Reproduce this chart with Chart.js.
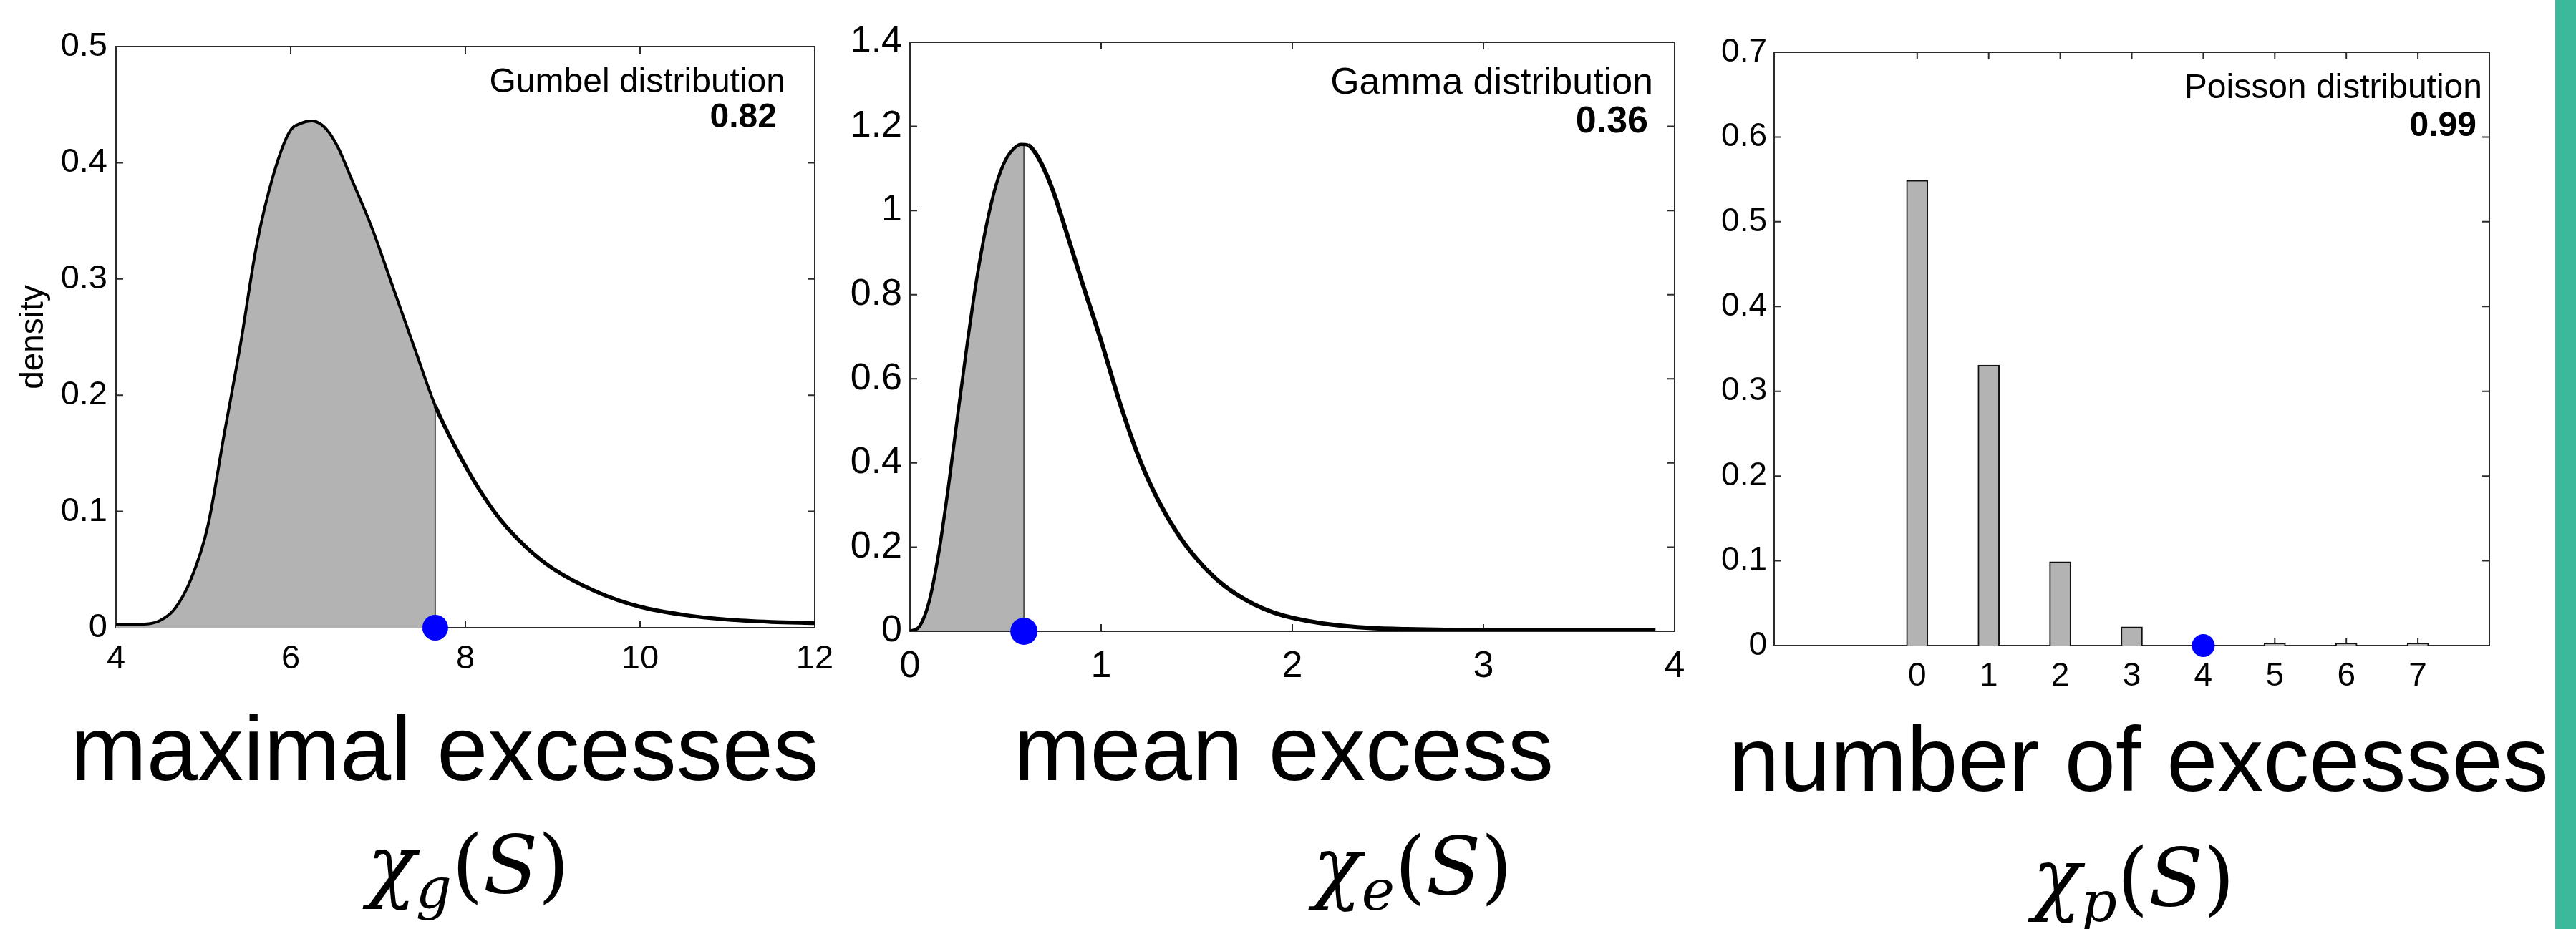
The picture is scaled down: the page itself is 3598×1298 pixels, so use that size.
<!DOCTYPE html>
<html lang="en">
<head>
<meta charset="UTF-8" />
<title>Excess distributions</title>
<script src="https://cdn.jsdelivr.net/npm/chart.js"></script>
<style>
  html, body { margin: 0; padding: 0; background: #fff; }
  body {
    width: 3598px; height: 1298px; position: relative; overflow: hidden;
    font-family: "Liberation Sans", Arial, sans-serif;
  }
  canvas { position: absolute; top: 0; }
  .caption {
    position: absolute; width: 1400px; text-align: center;
    font-size: 128px; line-height: 1; color: #000; white-space: nowrap;
  }
  .math {
    position: absolute; width: 600px; text-align: center;
    font-family: "DejaVu Serif", serif; font-size: 112px; line-height: 1;
    color: #000; white-space: nowrap;
  }
  .math sub { font-size: 0.7em; vertical-align: -0.28em; line-height: 0; font-style: italic; }
  .stripe { position: absolute; left: 3569px; top: 0; width: 29px; height: 1298px; background: #3cb99a; }
</style>
</head>
<body>
<canvas id="gumbel" width="1200" height="990" style="left:0px"></canvas>
<canvas id="gamma" width="1210" height="990" style="left:1170px"></canvas>
<canvas id="poisson" width="1150" height="990" style="left:2380px"></canvas>

<div class="caption" style="left:-79px; top:982px">maximal excesses</div>
<div class="caption" style="left:1093px; top:982px">mean excess</div>
<div class="caption" style="left:2287px; top:997px">number of excesses</div>

<div class="math" style="left:354px; top:1152px"><i>χ</i><sub>g</sub>(<i>S</i>)</div>
<div class="math" style="left:1673px; top:1154px"><i>χ</i><sub>e</sub>(<i>S</i>)</div>
<div class="math" style="left:2680px; top:1170px"><i>χ</i><sub>p</sub>(<i>S</i>)</div>

<div class="stripe"></div>

<script>
  // maximal excesses - Gumbel density
  const gumbelX = [4.0, 4.3, 4.5, 4.67, 4.86, 5.05, 5.24, 5.43, 5.61, 5.8, 5.99, 6.12, 6.24, 6.35,
    6.45, 6.55, 6.68, 6.93, 7.18, 7.43, 7.655, 7.9, 8.15, 8.4, 8.7, 9.0, 9.5, 10.0, 10.5, 11.0, 11.5, 12.0];
  const gumbelY = [0.003, 0.003, 0.006, 0.016, 0.042, 0.087, 0.167, 0.246, 0.329, 0.389, 0.427, 0.434, 0.436, 0.433,
    0.425, 0.412, 0.389, 0.344, 0.291, 0.238, 0.191, 0.153, 0.12, 0.093, 0.069, 0.051, 0.031, 0.018, 0.011, 0.007, 0.005, 0.004];
  const gumbelObs = 7.655;
  const gumbelObsY = 0.191;
  const gumbelXTicks = [4, 6, 8, 10, 12];
  const gumbelYTicks = [0, 0.1, 0.2, 0.3, 0.4, 0.5];

  // mean excess - Gamma density
  const gammaX = [0, 0.05, 0.1, 0.15, 0.2, 0.25, 0.3, 0.35, 0.4, 0.45, 0.5, 0.55, 0.58, 0.62, 0.66, 0.7, 0.75,
    0.8, 0.9, 1.0, 1.1, 1.2, 1.3, 1.4, 1.5, 1.6, 1.7, 1.8, 1.9, 2.0, 2.2, 2.4, 2.6, 3.0, 3.5, 3.9];
  const gammaY = [0, 0.012, 0.07, 0.185, 0.34, 0.515, 0.685, 0.84, 0.965, 1.06, 1.12, 1.15, 1.157, 1.155, 1.134, 1.1, 1.045,
    0.975, 0.83, 0.69, 0.54, 0.41, 0.31, 0.232, 0.172, 0.125, 0.09, 0.064, 0.045, 0.032, 0.016, 0.008, 0.005, 0.003, 0.003, 0.003];
  const gammaObs = 0.596;
  const gammaObsY = 1.156;
  const gammaXTicks = [0, 1, 2, 3, 4];
  const gammaYTicks = [0, 0.2, 0.4, 0.6, 0.8, 1, 1.2, 1.4];

  // number of excesses - Poisson probabilities
  const poissonK = [0, 1, 2, 3, 4, 5, 6, 7];
  const poissonP = [0.549, 0.331, 0.099, 0.022, 0.004, 0.003, 0.003, 0.003];
  const poissonObs = 4;
  const poissonXTicks = [0, 1, 2, 3, 4, 5, 6, 7];
  const poissonYTicks = [0, 0.1, 0.2, 0.3, 0.4, 0.5, 0.6, 0.7];

  const FONT = "Liberation Sans";
  const SHADE = "#b3b3b3";
  const DOT = "#0000ff";

  function pts(xs, ys) {
    return xs.map((x, i) => ({ x: x, y: ys[i] }));
  }

  function shadePts(xs, ys, obs, obsY) {
    const p = pts(xs, ys).filter(d => d.x < obs);
    p.push({ x: obs, y: obsY });
    return p;
  }

  // box around the axes, inward ticks on all four sides, and the corner note
  const frame = {
    id: "frame",
    beforeDatasetsDraw(chart) {
      const { ctx, chartArea: a, scales } = chart;
      ctx.save();
      ctx.strokeStyle = "#2b2b2b";
      ctx.lineWidth = 2;
      ctx.strokeRect(a.left, a.top, a.right - a.left, a.bottom - a.top);
      ctx.beginPath();
      scales.x.ticks.forEach(t => {
        const px = scales.x.getPixelForValue(t.value);
        ctx.moveTo(px, a.bottom); ctx.lineTo(px, a.bottom - 10);
        ctx.moveTo(px, a.top); ctx.lineTo(px, a.top + 10);
      });
      scales.y.ticks.forEach(t => {
        const py = scales.y.getPixelForValue(t.value);
        ctx.moveTo(a.left, py); ctx.lineTo(a.left + 10, py);
        ctx.moveTo(a.right, py); ctx.lineTo(a.right - 10, py);
      });
      ctx.stroke();
      ctx.restore();
    },
    afterDraw(chart, args, o) {
      if (!o.title) return;
      const { ctx, chartArea: a } = chart;
      ctx.save();
      ctx.fillStyle = "#000";
      ctx.textAlign = "right";
      ctx.textBaseline = "alphabetic";
      ctx.font = o.size + "px '" + FONT + "'";
      ctx.fillText(o.title, a.right - o.titleDx, a.top + o.titleDy);
      ctx.font = "bold " + o.size + "px '" + FONT + "'";
      ctx.fillText(o.value, a.right - o.valueDx, a.top + o.valueDy);
      ctx.restore();
    }
  };

  function axes(p) {
    const tickFont = { size: p.font, family: FONT };
    return {
      x: {
        type: "linear", position: "bottom", min: p.xMin, max: p.xMax, offset: false,
        afterBuildTicks: s => { s.ticks = p.xTicks.map(v => ({ value: v })); },
        afterFit: s => { s.height = p.xH; },
        grid: { display: false, drawTicks: false, offset: false },
        border: { display: false },
        ticks: { padding: p.xPad, color: "#000", font: tickFont, maxRotation: 0, autoSkip: false,
          callback: v => String(+v.toFixed(2)) }
      },
      y: {
        type: "linear", position: "left", min: p.yMin, max: p.yMax,
        afterBuildTicks: s => { s.ticks = p.yTicks.map(v => ({ value: v })); },
        afterFit: s => { s.width = p.yW; },
        grid: { display: false, drawTicks: false },
        border: { display: false },
        ticks: { padding: p.yPad, color: "#000", font: tickFont, callback: v => String(+v.toFixed(2)) },
        title: p.yTitle ? { display: true, text: p.yTitle, color: "#000",
          font: { size: 46, family: FONT }, padding: { top: 20, bottom: 0 } } : { display: false }
      }
    };
  }

  function baseOptions(p, note) {
    return {
      responsive: false,
      animation: false,
      events: [],
      layout: { padding: { top: p.top, right: p.right, left: 0, bottom: 0 } },
      plugins: { legend: { display: false }, tooltip: { enabled: false }, frame: note },
      scales: axes(p)
    };
  }

  function densityChart(id, xs, ys, obs, obsY, p, note, width, dotR) {
    return new Chart(document.getElementById(id), {
      type: "line",
      data: {
        datasets: [
          { data: [{ x: obs, y: 0 }], showLine: false, pointRadius: dotR, pointBackgroundColor: DOT,
            pointBorderWidth: 0, clip: false, order: 0 },
          { data: pts(xs, ys), borderColor: "#000", borderWidth: width, pointRadius: 0,
            cubicInterpolationMode: "monotone", fill: false, order: 1,
            segment: { borderWidth: c => (c.p0.parsed.x >= obs ? width + 1.5 : width) } },
          { data: [{ x: obs, y: 0 }, { x: obs, y: obsY }], borderColor: "#555", borderWidth: 2,
            pointRadius: 0, fill: false, order: 2 },
          { data: shadePts(xs, ys, obs, obsY), borderColor: "#444", borderWidth: 1.5, pointRadius: 0,
            cubicInterpolationMode: "monotone", fill: "origin", backgroundColor: SHADE, order: 3 }
        ]
      },
      options: baseOptions(p, note),
      plugins: [frame]
    });
  }

  densityChart("gumbel", gumbelX, gumbelY, gumbelObs, gumbelObsY,
    { xMin: 4, xMax: 12, yMin: 0, yMax: 0.5, xTicks: gumbelXTicks, yTicks: gumbelYTicks,
      font: 47, xH: 113, yW: 162, xPad: 16, yPad: 12, top: 65, right: 62, yTitle: "density" },
    { title: "Gumbel distribution", value: "0.82", size: 48, titleDx: 41, titleDy: 64, valueDx: 53, valueDy: 113 },
    4, 18);

  densityChart("gamma", gammaX, gammaY, gammaObs, gammaObsY,
    { xMin: 0, xMax: 4, yMin: 0, yMax: 1.4, xTicks: gammaXTicks, yTicks: gammaYTicks,
      font: 52, xH: 108, yW: 101, xPad: 18, yPad: 11, top: 59, right: 41 },
    { title: "Gamma distribution", value: "0.36", size: 52, titleDx: 30, titleDy: 72, valueDx: 37, valueDy: 126 },
    4.5, 19);

  const pp = { xMin: -2, xMax: 8, yMin: 0, yMax: 0.7, xTicks: poissonXTicks, yTicks: poissonYTicks,
    font: 46, xH: 88, yW: 98, xPad: 16, yPad: 10, top: 73, right: 53 };
  new Chart(document.getElementById("poisson"), {
    type: "bar",
    data: {
      datasets: [
        { type: "scatter", data: [{ x: poissonObs, y: 0 }], pointRadius: 16, pointBackgroundColor: DOT,
          pointBorderWidth: 0, clip: false, order: 0 },
        { type: "bar", data: pts(poissonK, poissonP), backgroundColor: SHADE, borderColor: "#111",
          borderWidth: 2, barThickness: 30, order: 1 }
      ]
    },
    options: baseOptions(pp,
      { title: "Poisson distribution", value: "0.99", size: 48, titleDx: 10, titleDy: 64, valueDx: 18, valueDy: 117 }),
    plugins: [frame]
  });
</script>
</body>
</html>
